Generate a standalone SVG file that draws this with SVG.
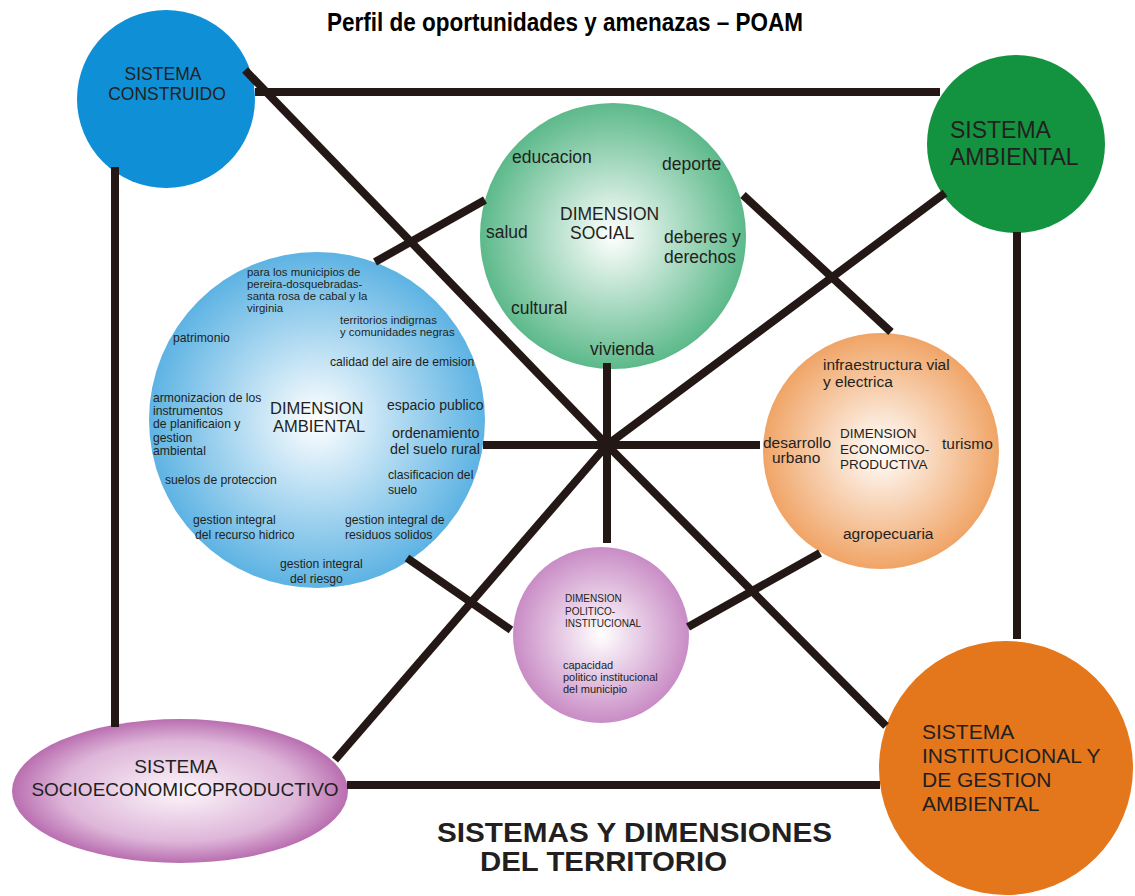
<svg xmlns="http://www.w3.org/2000/svg" width="1135" height="896" viewBox="0 0 1135 896">
<defs>
<radialGradient id="gSocial" cx="0.5" cy="0.5" r="0.5"><stop offset="0" stop-color="#ffffff"/><stop offset="1" stop-color="#5cb98a"/></radialGradient>
<radialGradient id="gAmb" cx="0.5" cy="0.5" r="0.5"><stop offset="0" stop-color="#ffffff"/><stop offset="1" stop-color="#5db3e3"/></radialGradient>
<radialGradient id="gEco" cx="0.5" cy="0.5" r="0.5"><stop offset="0" stop-color="#ffffff"/><stop offset="1" stop-color="#f0a466"/></radialGradient>
<radialGradient id="gPol" cx="0.5" cy="0.5" r="0.5"><stop offset="0" stop-color="#ffffff"/><stop offset="1" stop-color="#c98cc5"/></radialGradient>
<radialGradient id="gSoc" cx="0.5" cy="0.5" r="0.5"><stop offset="0" stop-color="#fcf6fb"/><stop offset="0.7" stop-color="#deb6d9"/><stop offset="1" stop-color="#b96eb0"/></radialGradient>
</defs>
<style>
text{font-family:"Liberation Sans",Arial,sans-serif;fill:#231f20}
.c{stroke:#231815;stroke-width:8;fill:none;stroke-linecap:butt}
.b{font-weight:bold}
</style>
<rect width="1135" height="896" fill="#ffffff"/>
<text class="b" x="327" y="31" font-size="25" textLength="476" lengthAdjust="spacingAndGlyphs" style="fill:#000">Perfil de oportunidades y amenazas – POAM</text>

<g id="node-construido">
<circle cx="166" cy="99" r="89" fill="#0f8fd6"/>
<text x="163" y="80" font-size="17.5" text-anchor="middle">SISTEMA</text>
<text x="167" y="100" font-size="17.5" text-anchor="middle">CONSTRUIDO</text>
</g>
<g id="node-ambiental-sis">
<circle cx="1016" cy="144" r="89" fill="#139240"/>
<text x="950" y="138" font-size="23">SISTEMA</text>
<text x="950" y="165" font-size="23">AMBIENTAL</text>
</g>
<g id="node-socio">
<ellipse cx="180" cy="791" rx="168" ry="72" fill="url(#gSoc)"/>
<text x="176" y="773" font-size="19" text-anchor="middle">SISTEMA</text>
<text x="185" y="796" font-size="19" text-anchor="middle">SOCIOECONOMICOPRODUCTIVO</text>
</g>
<g id="node-institucional">
<circle cx="1006" cy="768" r="127" fill="#e4761c"/>
<text x="922" y="739" font-size="21">SISTEMA</text>
<text x="922" y="763" font-size="21">INSTITUCIONAL Y</text>
<text x="922" y="787" font-size="21">DE GESTION</text>
<text x="922" y="811" font-size="21">AMBIENTAL</text>
</g>

<g id="node-dim-social">
<circle cx="613" cy="236" r="133" fill="url(#gSocial)"/>
<g font-size="17.5">
<text x="512" y="163">educacion</text>
<text x="662" y="170">deporte</text>
<text x="560" y="220">DIMENSION</text>
<text x="570" y="239">SOCIAL</text>
<text x="486" y="238">salud</text>
<text x="664" y="243">deberes y</text>
<text x="664" y="263">derechos</text>
<text x="511" y="314">cultural</text>
<text x="590" y="355">vivienda</text>
</g>
</g>

<g id="node-dim-ambiental">
<circle cx="317" cy="420" r="168" fill="url(#gAmb)"/>
<g font-size="11.4">
<text x="247" y="276">para los municipios de</text>
<text x="247" y="288">pereira-dosquebradas-</text>
<text x="247" y="300">santa rosa de cabal y la</text>
<text x="247" y="312">virginia</text>
<text x="340" y="324">territorios indigrnas</text>
<text x="340" y="336">y comunidades negras</text>
</g>
<g font-size="12.2">
<text x="173" y="342">patrimonio</text>
<text x="330" y="366">calidad del aire de emision</text>
<text x="153" y="402">armonizacion de los</text>
<text x="153" y="415">instrumentos</text>
<text x="153" y="428">de planificaion y</text>
<text x="153" y="442">gestion</text>
<text x="153" y="455">ambiental</text>
<text x="165" y="484">suelos de proteccion</text>
<text x="388" y="479">clasificacion del</text>
<text x="388" y="494">suelo</text>
<text x="193" y="524">gestion integral</text>
<text x="195" y="539">del recurso hidrico</text>
<text x="345" y="524">gestion integral de</text>
<text x="345" y="539">residuos solidos</text>
<text x="280" y="568">gestion integral</text>
<text x="290" y="583">del riesgo</text>
</g>
<text x="270" y="414" font-size="16.5">DIMENSION</text>
<text x="273" y="432" font-size="16.5">AMBIENTAL</text>
<text x="387" y="410" font-size="14">espacio publico</text>
<text x="392" y="438" font-size="14.3">ordenamiento</text>
<text x="390" y="454" font-size="14.3">del suelo rural</text>
</g>

<g id="node-dim-economica">
<circle cx="881" cy="451" r="118" fill="url(#gEco)"/>
<g font-size="15.5">
<text x="823" y="370">infraestructura vial</text>
<text x="823" y="387">y electrica</text>
<text x="763" y="448">desarrollo</text>
<text x="772" y="463">urbano</text>
<text x="942" y="449">turismo</text>
<text x="843" y="539">agropecuaria</text>
</g>
<g font-size="13.5">
<text x="840" y="438">DIMENSION</text>
<text x="840" y="454">ECONOMICO-</text>
<text x="840" y="469">PRODUCTIVA</text>
</g>
</g>

<g id="node-dim-politica">
<circle cx="601" cy="635" r="88" fill="url(#gPol)"/>
<g font-size="10">
<text x="565" y="602">DIMENSION</text>
<text x="565" y="615">POLITICO-</text>
<text x="565" y="627">INSTITUCIONAL</text>
</g>
<g font-size="11">
<text x="563" y="669">capacidad</text>
<text x="563" y="681">politico institucional</text>
<text x="563" y="693">del municipio</text>
</g>
</g>

<g id="connectors">
<line class="c" x1="255" y1="92" x2="940" y2="92"/>
<line class="c" x1="115" y1="167" x2="115" y2="727"/>
<line class="c" x1="1017" y1="232" x2="1017" y2="639"/>
<line class="c" x1="347" y1="785" x2="880" y2="785"/>
<line class="c" x1="607" y1="445" x2="245" y2="70"/>
<line class="c" x1="607" y1="445" x2="945" y2="193"/>
<line class="c" x1="607" y1="445" x2="335" y2="760"/>
<line class="c" x1="607" y1="445" x2="886" y2="726"/>
<line class="c" x1="607" y1="363" x2="607" y2="543"/>
<line class="c" x1="483" y1="445" x2="760" y2="445"/>
<line class="c" x1="485" y1="200" x2="375" y2="262"/>
<line class="c" x1="743" y1="195" x2="891" y2="332"/>
<line class="c" x1="407" y1="558" x2="511" y2="630"/>
<line class="c" x1="688" y1="627" x2="820" y2="553"/>
<circle cx="607" cy="445" r="7" fill="#231815"/>
</g>

<text class="b" x="437" y="842" font-size="28.5" textLength="395" lengthAdjust="spacingAndGlyphs">SISTEMAS Y DIMENSIONES</text>
<text class="b" x="480" y="871" font-size="28.5" textLength="247" lengthAdjust="spacingAndGlyphs">DEL TERRITORIO</text>
</svg>
